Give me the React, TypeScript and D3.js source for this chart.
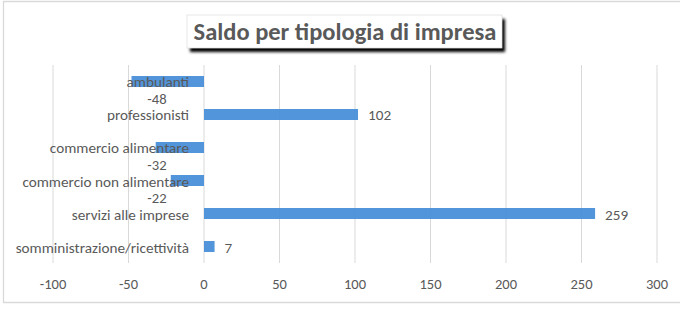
import React from "react";
import * as d3 from "d3";

const categories = [
  "ambulanti",
  "professionisti",
  "commercio alimentare",
  "commercio non alimentare",
  "servizi alle imprese",
  "somministrazione/ricettività",
];
const saldo = [-48, 102, -32, -22, 259, 7];
const tickValues = [-100, -50, 0, 50, 100, 150, 200, 250, 300];
const title = "Saldo per tipologia di impresa";

const W = 680;
const H = 312;
const FONT = "Carlito, Lato, 'Open Sans', sans-serif";
const TEXT = "#595959";
const BAR = "#4a8fd8";

export default function App() {
  const x = d3.scaleLinear().domain([-100, 300]).range([53, 657]);
  const y = d3
    .scaleBand<string>()
    .domain(categories)
    .range([65, 263])
    .paddingInner(0.667)
    .paddingOuter(0.333);
  const step = y.step();

  return (
    <svg
      width={W}
      height={H}
      style={{ position: "absolute", left: 0, top: 0, background: "#fff" }}
      fontFamily={FONT}
    >
      <defs>
        <filter id="shadowBlur" x="-10%" y="-50%" width="120%" height="200%">
          <feGaussianBlur stdDeviation="1.6" />
        </filter>
      </defs>
      <rect width={W} height={H} fill="#fff" />
      {/* chart frame */}
      <path d={`M${W + 2},1.5 H3.5 V302.5 H${W + 2}`} fill="none" stroke="#d9d9d9" strokeWidth={1.3} />

      {/* title box with drop shadow */}
      <rect x={190} y={19} width={315} height={33} fill="#000" filter="url(#shadowBlur)" />
      <rect x={187} y={15} width={315} height={33} fill="#fff" stroke="#e0e0e0" strokeWidth={0.8} />
      <text
        x={345}
        y={32}
        textAnchor="middle"
        dominantBaseline="central"
        fontSize={24.5}
        fontWeight="bold"
        fill={TEXT}
      >
        {title}
      </text>

      {/* vertical gridlines */}
      {tickValues.map((t) => (
        <line
          key={`g${t}`}
          x1={x(t)}
          x2={x(t)}
          y1={65}
          y2={263}
          stroke="#d9d9d9"
          strokeWidth={1}
        />
      ))}

      {/* bars */}
      {categories.map((c, i) => {
        const v = saldo[i];
        const x0 = x(Math.min(0, v));
        const x1 = x(Math.max(0, v));
        return (
          <rect
            key={`b${c}`}
            x={x0}
            y={y(c)!}
            width={x1 - x0}
            height={y.bandwidth()}
            fill={BAR}
            opacity={0.95}
          />
        );
      })}

      {/* category labels, drawn over the bars */}
      {categories.map((c) => (
        <text
          key={`c${c}`}
          x={189}
          y={y(c)! + y.bandwidth() / 2 + 1}
          textAnchor="end"
          dominantBaseline="central"
          fontSize={15.2}
          fill={TEXT}
        >
          {c}
        </text>
      ))}

      {/* value labels */}
      {categories.map((c, i) => {
        const v = saldo[i];
        const cy = y(c)! + y.bandwidth() / 2;
        if (v >= 0) {
          return (
            <text
              key={`v${c}`}
              x={x(v) + 10}
              y={cy + 1}
              dominantBaseline="central"
              fontSize={15.2}
              fill={TEXT}
            >
              {v}
            </text>
          );
        }
        return (
          <text
            key={`v${c}`}
            x={x(0) - 47}
            y={cy + step / 2 + 1}
            textAnchor="middle"
            dominantBaseline="central"
            fontSize={14.6}
            fill={TEXT}
          >
            {v}
          </text>
        );
      })}

      {/* x axis tick labels */}
      {tickValues.map((t) => (
        <text
          key={`t${t}`}
          x={x(t)}
          y={284}
          textAnchor="middle"
          dominantBaseline="central"
          fontSize={14.5}
          fill={TEXT}
        >
          {t}
        </text>
      ))}
    </svg>
  );
}
